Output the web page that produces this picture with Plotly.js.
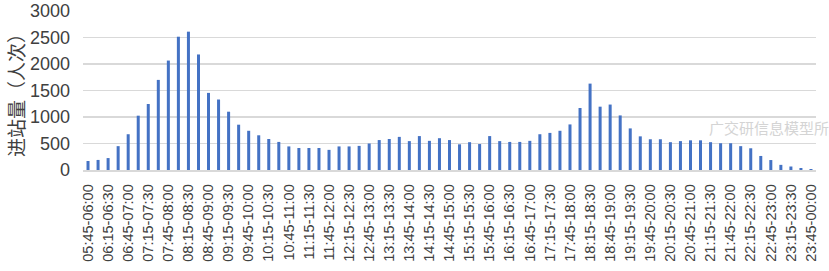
<!DOCTYPE html>
<html>
<head>
<meta charset="utf-8">
<script src="https://cdn.plot.ly/plotly-3.0.1.min.js"></script>
<style>html,body{margin:0;padding:0;background:#fff;}#chart{width:829px;height:271px;}</style>
</head>
<body>
<div id="chart"></div>
<script>
const periods = [
  "05:45-06:00","06:00-06:15","06:15-06:30","06:30-06:45","06:45-07:00","07:00-07:15","07:15-07:30","07:30-07:45",
  "07:45-08:00","08:00-08:15","08:15-08:30","08:30-08:45","08:45-09:00","09:00-09:15","09:15-09:30","09:30-09:45",
  "09:45-10:00","10:00-10:15","10:15-10:30","10:30-10:45","10:45-11:00","11:00-11:15","11:15-11:30","11:30-11:45",
  "11:45-12:00","12:00-12:15","12:15-12:30","12:30-12:45","12:45-13:00","13:00-13:15","13:15-13:30","13:30-13:45",
  "13:45-14:00","14:00-14:15","14:15-14:30","14:30-14:45","14:45-15:00","15:00-15:15","15:15-15:30","15:30-15:45",
  "15:45-16:00","16:00-16:15","16:15-16:30","16:30-16:45","16:45-17:00","17:00-17:15","17:15-17:30","17:30-17:45",
  "17:45-18:00","18:00-18:15","18:15-18:30","18:30-18:45","18:45-19:00","19:00-19:15","19:15-19:30","19:30-19:45",
  "19:45-20:00","20:00-20:15","20:15-20:30","20:30-20:45","20:45-21:00","21:00-21:15","21:15-21:30","21:30-21:45",
  "21:45-22:00","22:00-22:15","22:15-22:30","22:30-22:45","22:45-23:00","23:00-23:15","23:15-23:30","23:30-23:45",
  "23:45-00:00"
];
const entries = [
  170,190,225,450,675,1025,1245,1700,2065,2515,
  2610,2180,1455,1330,1100,855,740,655,585,530,
  445,415,415,415,380,445,445,455,500,565,
  585,625,545,640,550,600,565,485,525,490,
  640,545,530,530,550,675,700,740,860,1170,
  1630,1195,1235,1030,785,635,580,580,525,545,
  560,560,525,505,505,450,410,265,188,97,
  66,38,19
];
const yTickVals = [0,500,1000,1500,2000,2500,3000];
const yTitle = "进站量（人次）";
const watermark = "广交研信息模型所";

const tickShown = periods.filter((p, i) => i % 2 === 0);

const trace = {
  type: "bar",
  x: periods,
  y: entries,
  marker: {color: "#4472C4"},
  hoverinfo: "x+y"
};

const layout = {
  width: 829, height: 271,
  margin: {l: 83, r: 13, t: 11, b: 101},
  paper_bgcolor: "#fff", plot_bgcolor: "#fff",
  bargap: 0.7,
  showlegend: false,
  font: {family: "Liberation Sans, Arial, sans-serif", color: "#404040"},
  xaxis: {
    type: "category",
    tickmode: "array",
    tickvals: tickShown,
    ticktext: tickShown,
    tickangle: -90,
    tickfont: {size: 14.5, color: "#404040"},
    ticks: "",
    showgrid: false,
    showline: true, linecolor: "#d9d9d9", linewidth: 1.5,
    ticklabelstandoff: 7,
    automargin: false,
    fixedrange: true
  },
  yaxis: {
    range: [0, 3000],
    tickmode: "array",
    tickvals: yTickVals,
    tickfont: {size: 18, color: "#404040"},
    showgrid: true, gridcolor: "#d9d9d9", gridwidth: 1.5,
    zeroline: false,
    showline: false,
    ticks: "",
    ticklabelstandoff: 12,
    automargin: false,
    title: {text: yTitle, font: {family: "Noto Sans CJK SC, sans-serif", size: 19, color: "#404040"}, standoff: 0},
    fixedrange: true
  },
  annotations: [{
    text: watermark, xref: "paper", yref: "paper",
    x: 1.02, y: 0.27, xanchor: "right", yanchor: "middle",
    showarrow: false,
    font: {family: "Noto Sans CJK SC, sans-serif", size: 15, color: "#d4d4d4"}
  }]
};

Plotly.newPlot("chart", [trace], layout, {displayModeBar: false, staticPlot: true});
</script>
</body>
</html>
